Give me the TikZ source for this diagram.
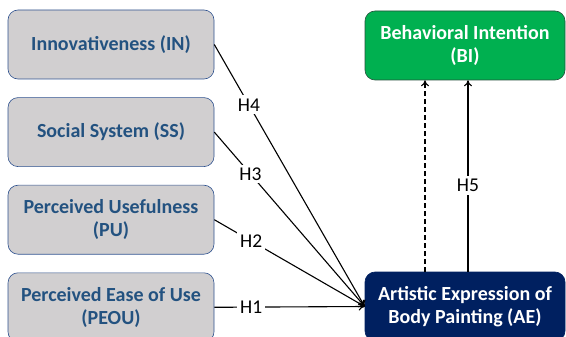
\documentclass[tikz,border=0pt]{standalone}
\usepackage{fontspec}
\setmainfont{Carlito}
\usetikzlibrary{arrows.meta, positioning}
\definecolor{boxgray}{RGB}{209,207,208}
\definecolor{boxedge}{RGB}{47,82,143}
\definecolor{boxtext}{RGB}{35,82,128}
\definecolor{bigreen}{RGB}{0,176,80}
\definecolor{biedge}{RGB}{38,80,60}
\definecolor{aenavy}{RGB}{0,32,96}

\begin{document}
\begin{tikzpicture}[
      x=1pt, y=-1pt,
      >={To[length=6pt, width=8pt]},
      node distance=18pt and 0pt,
      every node/.append style={font=\fontsize{19.5}{23}\selectfont},
      box/.style={rectangle, rounded corners=10pt, draw, semithick,
                  minimum height=69pt, minimum width=206pt, align=center,
                  inner sep=2pt, font=\fontsize{20}{23.5}\selectfont\bfseries},
      cbox/.style={box, fill=boxgray, draw=boxedge, text=boxtext},
      gbox/.style={box, minimum width=200pt, fill=bigreen, draw=biedge, text=white},
      nbox/.style={box, minimum width=200pt, fill=aenavy, draw=aenavy, text=white},
      hlab/.style={fill=white, inner sep=3pt},
      link/.style={->, line width=1.1pt},
    ]
      \useasboundingbox (0,0) rectangle (566,337);
      % constructs on the left
      \node[cbox] (IN) at (111,44.5) {Innovativeness (IN)};
      \node[cbox, below=of IN] (SS) {Social System (SS)};
      \node[cbox, below=of SS] (PU) {Perceived Usefulness\\(PU)};
      \node[cbox, below=of PU] (PEOU) {Perceived Ease of Use\\(PEOU)};
      % outcome constructs
      \node[gbox] (BI) at (465,45.5) {Behavioral Intention\\(BI)};
      \node[nbox] (AE) at (465,306.5) {Artistic Expression of\\Body Painting (AE)};
      % hypotheses
      \draw[link] (IN.east) -- node[hlab, pos=0.23] {H4} (AE.west);
      \draw[link] (SS.east) -- node[hlab, pos=0.24] {H3} (AE.west);
      \draw[link] (PU.east) -- node[hlab, pos=0.245] {H2} (AE.west);
      \draw[link] (PEOU.east) -- node[hlab, pos=0.245] {H1} (AE.west);
      \draw[link] ([xshift=3pt]AE.north) -- node[hlab, pos=0.45] {H5} ([xshift=3pt]AE.north |- BI.south);
      \draw[link, dashed, dash pattern=on 5pt off 3pt] ([xshift=-40pt]AE.north) -- ([xshift=-40pt]AE.north |- BI.south);
    \end{tikzpicture}
\end{document}
